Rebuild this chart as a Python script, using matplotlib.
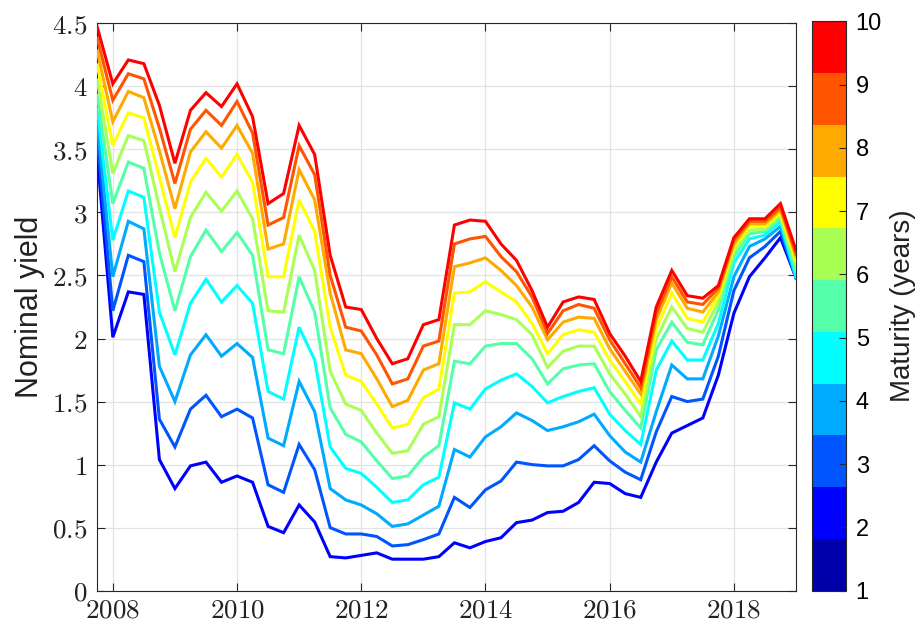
import numpy as np
import matplotlib
matplotlib.use("Agg")
import matplotlib.pyplot as plt
from matplotlib.colors import ListedColormap, Normalize
from matplotlib.cm import ScalarMappable
from matplotlib.ticker import FuncFormatter

plt.rcParams["mathtext.fontset"] = "cm"

# quarterly observations, 2007Q4 .. 2019Q1
DATES = 2007.75 + 0.25 * np.arange(46)
MATURITIES = list(range(1, 11))

# nominal yields (%) per maturity in years
Y1 = [3.45, 2.01, 2.37, 2.35, 1.04, 0.81, 0.99, 1.02, 0.86, 0.91, 0.86, 0.51, 0.46, 0.68, 0.545, 0.27,
      0.26, 0.28, 0.30, 0.25, 0.25, 0.25, 0.27, 0.38, 0.34, 0.39, 0.42, 0.54, 0.56, 0.62, 0.63, 0.70,
      0.86, 0.85, 0.77, 0.74, 1.02, 1.25, 1.31, 1.37, 1.71, 2.20, 2.49, 2.64, 2.80, 2.48]
Y2 = [3.58, 2.22, 2.66, 2.61, 1.36, 1.14, 1.44, 1.55, 1.38, 1.44, 1.37, 0.84, 0.78, 1.16, 0.96, 0.50,
      0.45, 0.45, 0.43, 0.355, 0.365, 0.405, 0.45, 0.74, 0.66, 0.80, 0.87, 1.02, 1.00, 0.99, 0.99, 1.04,
      1.15, 1.03, 0.94, 0.88, 1.26, 1.54, 1.50, 1.52, 1.86, 2.38, 2.64, 2.73, 2.85, 2.48]
Y3 = [3.70, 2.49, 2.93, 2.87, 1.78, 1.50, 1.87, 2.03, 1.86, 1.96, 1.85, 1.21, 1.15, 1.66, 1.42, 0.81,
      0.72, 0.68, 0.61, 0.51, 0.53, 0.60, 0.67, 1.12, 1.06, 1.22, 1.30, 1.41, 1.35, 1.27, 1.30, 1.34,
      1.40, 1.23, 1.10, 1.02, 1.42, 1.79, 1.68, 1.68, 2.02, 2.49, 2.73, 2.79, 2.89, 2.48]
Y4 = [3.82, 2.78, 3.17, 3.12, 2.21, 1.87, 2.28, 2.47, 2.29, 2.42, 2.28, 1.58, 1.52, 2.09, 1.83, 1.14,
      0.97, 0.93, 0.82, 0.70, 0.72, 0.84, 0.90, 1.49, 1.44, 1.60, 1.67, 1.72, 1.62, 1.49, 1.54, 1.58,
      1.61, 1.40, 1.27, 1.16, 1.75, 1.98, 1.83, 1.83, 2.12, 2.60, 2.79, 2.82, 2.93, 2.49]
Y5 = [3.93, 3.07, 3.40, 3.35, 2.68, 2.22, 2.65, 2.86, 2.69, 2.84, 2.66, 1.91, 1.88, 2.49, 2.21, 1.45,
      1.24, 1.18, 1.03, 0.89, 0.91, 1.06, 1.15, 1.82, 1.80, 1.94, 1.96, 1.96, 1.84, 1.64, 1.76, 1.79,
      1.80, 1.58, 1.43, 1.29, 1.91, 2.13, 1.97, 1.95, 2.23, 2.65, 2.83, 2.85, 2.95, 2.54]
Y6 = [4.05, 3.31, 3.61, 3.57, 3.04, 2.53, 2.96, 3.16, 3.01, 3.17, 2.95, 2.22, 2.21, 2.82, 2.54, 1.74,
      1.48, 1.43, 1.25, 1.09, 1.11, 1.32, 1.38, 2.11, 2.11, 2.22, 2.19, 2.15, 2.03, 1.77, 1.90, 1.94,
      1.94, 1.72, 1.56, 1.38, 2.00, 2.25, 2.08, 2.05, 2.29, 2.69, 2.86, 2.87, 2.97, 2.58]
Y7 = [4.17, 3.53, 3.79, 3.75, 3.28, 2.80, 3.24, 3.43, 3.28, 3.46, 3.24, 2.49, 2.49, 3.10, 2.85, 2.09,
      1.71, 1.66, 1.48, 1.29, 1.32, 1.53, 1.60, 2.36, 2.37, 2.45, 2.37, 2.29, 2.12, 1.88, 2.03, 2.07,
      2.05, 1.83, 1.66, 1.48, 2.08, 2.36, 2.16, 2.13, 2.34, 2.73, 2.89, 2.89, 3.00, 2.62]
Y8 = [4.28, 3.72, 3.96, 3.91, 3.49, 3.03, 3.48, 3.64, 3.51, 3.69, 3.47, 2.71, 2.75, 3.34, 3.10, 2.36,
      1.91, 1.88, 1.68, 1.46, 1.51, 1.75, 1.80, 2.57, 2.60, 2.64, 2.54, 2.42, 2.25, 1.99, 2.13, 2.17,
      2.16, 1.92, 1.74, 1.56, 2.15, 2.44, 2.24, 2.21, 2.37, 2.75, 2.91, 2.91, 3.02, 2.65]
Y9 = [4.38, 3.89, 4.10, 4.06, 3.67, 3.23, 3.66, 3.81, 3.69, 3.88, 3.63, 2.90, 2.96, 3.53, 3.30, 2.50,
      2.09, 2.06, 1.87, 1.64, 1.68, 1.94, 1.98, 2.75, 2.79, 2.81, 2.65, 2.53, 2.33, 2.04, 2.22, 2.27,
      2.24, 1.99, 1.80, 1.61, 2.20, 2.49, 2.29, 2.27, 2.40, 2.78, 2.93, 2.93, 3.04, 2.67]
Y10 = [4.47, 4.02, 4.21, 4.18, 3.85, 3.39, 3.81, 3.95, 3.84, 4.02, 3.76, 3.07, 3.15, 3.69, 3.46, 2.66,
       2.25, 2.23, 2.00, 1.80, 1.84, 2.11, 2.15, 2.90, 2.94, 2.93, 2.75, 2.62, 2.38, 2.09, 2.29, 2.33,
       2.31, 2.04, 1.86, 1.66, 2.25, 2.54, 2.34, 2.32, 2.42, 2.80, 2.95, 2.95, 3.07, 2.70]
YIELDS = [Y1, Y2, Y3, Y4, Y5, Y6, Y7, Y8, Y9, Y10]

XTICKS = [2008, 2010, 2012, 2014, 2016, 2018]
YTICKS = [0, 0.5, 1, 1.5, 2, 2.5, 3, 3.5, 4, 4.5]

# MATLAB jet(11)
JET11 = [(0, 0, 2/3), (0, 0, 1), (0, 1/3, 1), (0, 2/3, 1), (0, 1, 1), (1/3, 1, 2/3),
         (2/3, 1, 1/3), (1, 1, 0), (1, 2/3, 0), (1, 1/3, 0), (1, 0, 0)]
AXCOL = "#262626"
GRIDCOL = "#e3e3e3"
SANS = "Liberation Sans"

fig = plt.figure(figsize=(9.23, 6.29), dpi=100)
ax = fig.add_axes([0.1054, 0.0609, 0.757, 0.902])

for y, c in zip(YIELDS, JET11[1:]):
    ax.plot(DATES, y, color=c, linewidth=2.2, solid_joinstyle="miter", zorder=3)

ax.set_xlim(2007.75, 2019.0)
ax.set_ylim(0, 4.5)
ax.set_xticks(XTICKS)
ax.set_yticks(YTICKS)
ax.xaxis.set_major_formatter(FuncFormatter(lambda v, p: f"${v:g}$"))
ax.yaxis.set_major_formatter(FuncFormatter(lambda v, p: f"${v:g}$"))
ax.tick_params(direction="in", length=6, width=0.8, color=AXCOL, labelsize=19.5,
               top=True, right=True, labelcolor="#222222")
ax.tick_params(axis="x", pad=5)
ax.tick_params(axis="y", pad=7)
ax.grid(True, color=GRIDCOL, linewidth=0.9, zorder=0)
ax.set_axisbelow(True)
for s in ax.spines.values():
    s.set_color(AXCOL)
    s.set_linewidth(0.8)
ax.set_ylabel("Nominal yield", fontsize=22, family=SANS, color="#222222", labelpad=5)

cax = fig.add_axes([0.8797, 0.0609, 0.0368, 0.905])
sm = ScalarMappable(norm=Normalize(1, 10), cmap=ListedColormap(JET11))
cb = fig.colorbar(sm, cax=cax, ticks=MATURITIES)
cb.outline.set_edgecolor(AXCOL)
cb.outline.set_linewidth(0.8)
cax.tick_params(direction="in", length=5, width=0.8, color=AXCOL, labelsize=17, pad=7)
for t in cax.get_yticklabels():
    t.set_family(SANS)
cb.set_label("Maturity (years)", fontsize=20, family=SANS, color="#222222", labelpad=6)

fig.savefig("out.png", dpi=100)
